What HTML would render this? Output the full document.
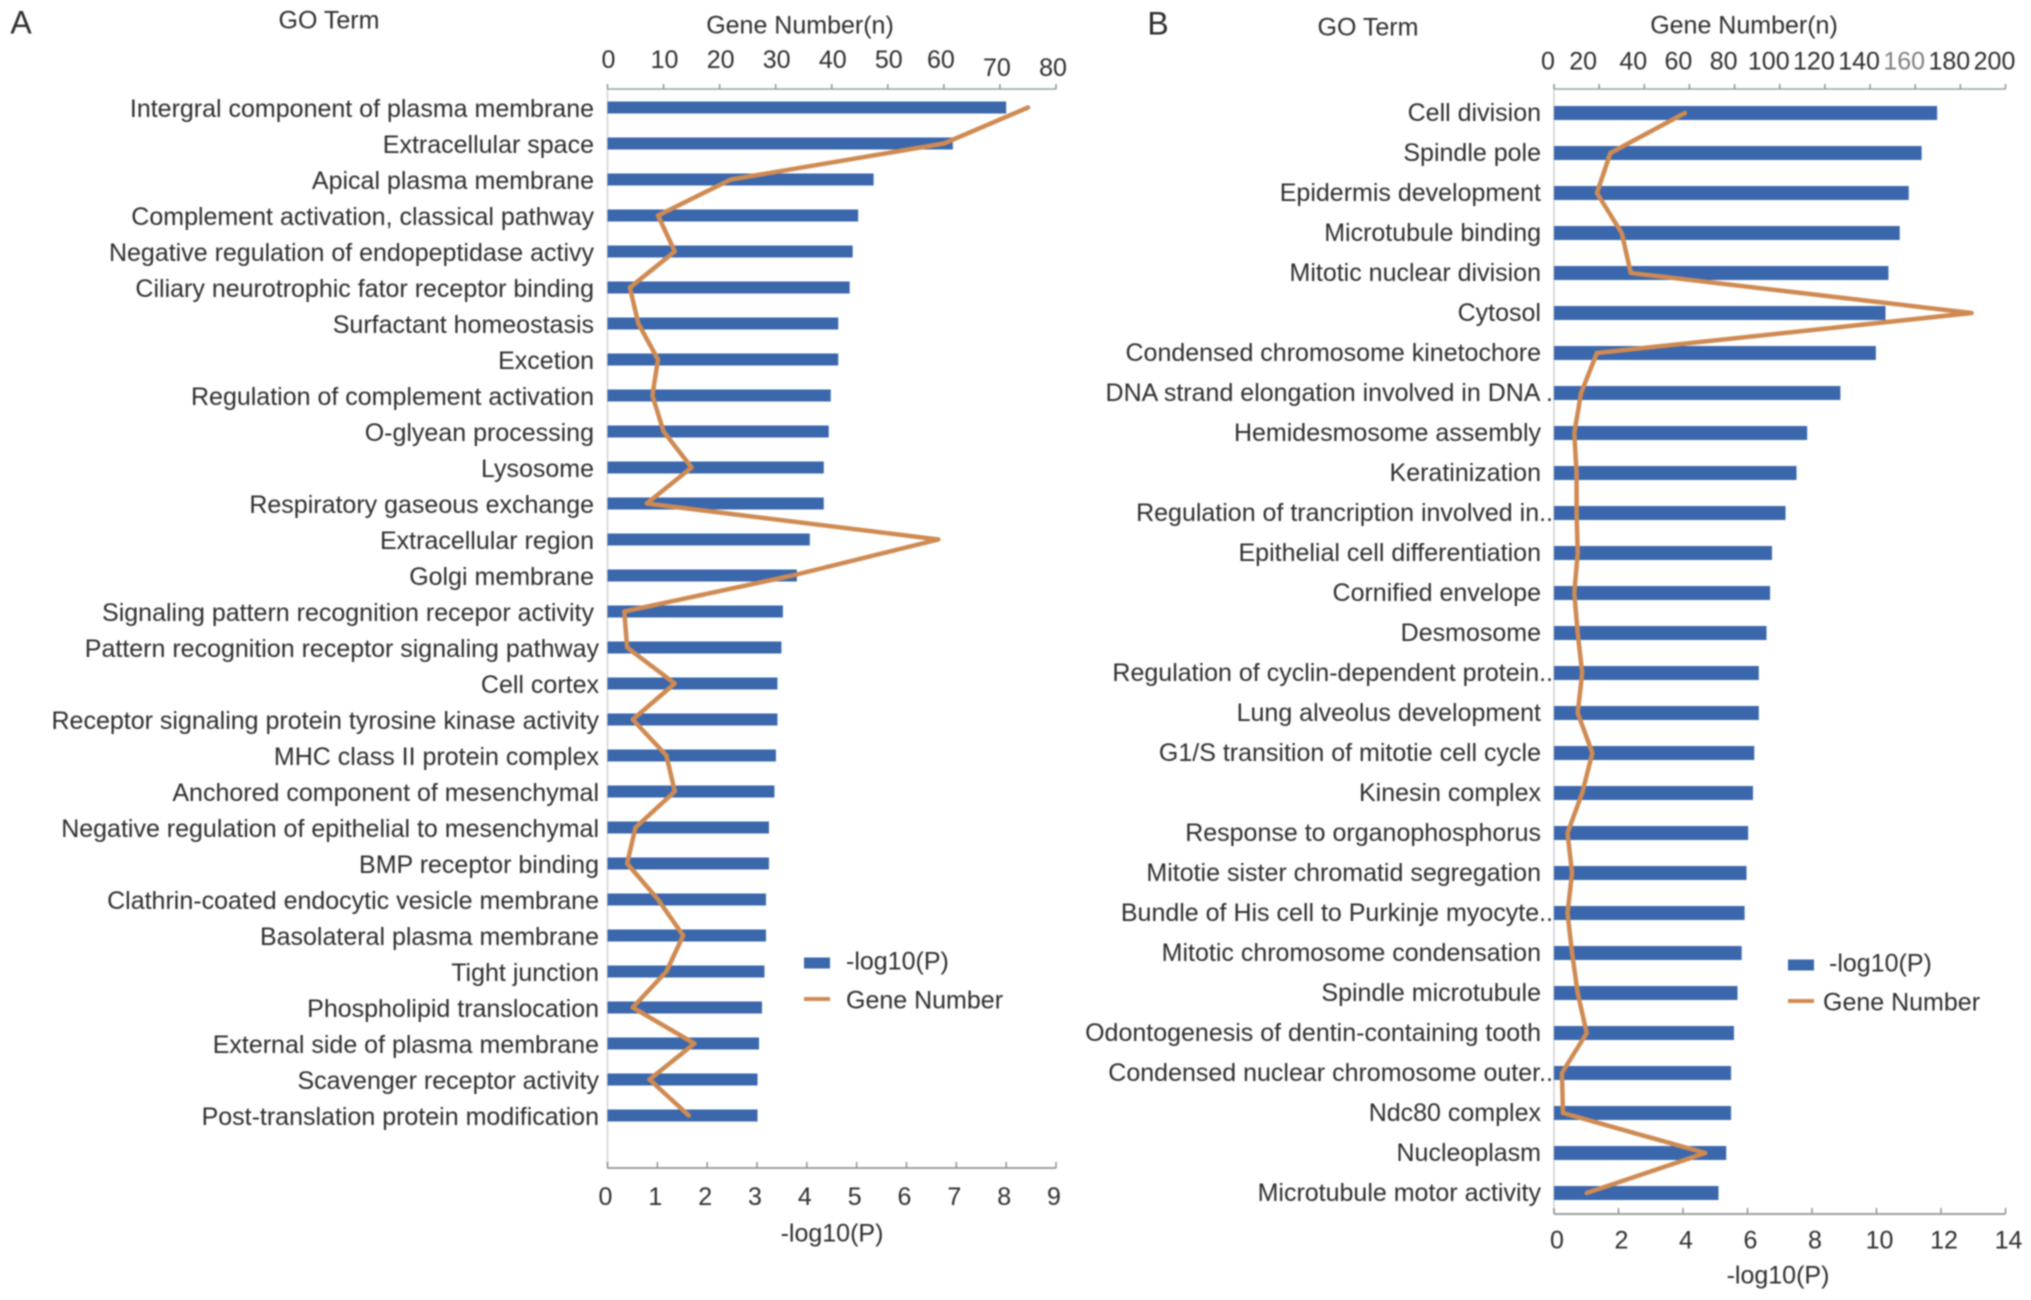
<!DOCTYPE html>
<html lang="en">
<head>
<meta charset="utf-8">
<title>GO term enrichment charts</title>
<style>
html,body{margin:0;padding:0;background:#fff;width:2031px;height:1300px;overflow:hidden}
svg{display:block;filter:blur(0.9px)}
text{font-family:"Liberation Sans",sans-serif;fill:#2e2e2e}
</style>
</head>
<body>
<svg id="chart" width="2031" height="1300" viewBox="0 0 2031 1300" xmlns="http://www.w3.org/2000/svg"></svg>
<script>
const termsA = ["Intergral component of plasma membrane","Extracellular space","Apical plasma membrane","Complement activation, classical pathway","Negative regulation of endopeptidase activy","Ciliary neurotrophic fator receptor binding","Surfactant homeostasis","Excetion","Regulation of complement activation","O-glyean processing","Lysosome","Respiratory gaseous exchange","Extracellular region","Golgi membrane","Signaling pattern recognition recepor activity","Pattern recognition receptor signaling pathway","Cell cortex","Receptor signaling protein tyrosine kinase activity","MHC class II protein complex","Anchored component of mesenchymal","Negative regulation of epithelial to mesenchymal","BMP receptor binding","Clathrin-coated endocytic vesicle membrane","Basolateral plasma membrane","Tight junction","Phospholipid translocation","External side of plasma membrane","Scavenger receptor activity","Post-translation protein modification"];
const logPA = [8.0,6.93,5.34,5.03,4.92,4.86,4.63,4.63,4.48,4.44,4.34,4.34,4.06,3.8,3.52,3.49,3.41,3.41,3.38,3.35,3.24,3.24,3.18,3.18,3.15,3.1,3.04,3.01,3.01];
const genesA = [75,60,22,9,12,4,5.5,9,8,10,15,7,59,33,3,3.5,12,4.5,10.5,12,5,3.5,9,13.5,10.5,4.5,15.5,7.5,14.5];
const geneTicksA = [0,10,20,30,40,50,60,70,80];
const logTicksA = [0,1,2,3,4,5,6,7,8,9];

const termsB = ["Cell division","Spindle pole","Epidermis development","Microtubule binding","Mitotic nuclear division","Cytosol","Condensed chromosome kinetochore","DNA strand elongation involved in DNA .","Hemidesmosome assembly","Keratinization","Regulation of trancription involved in..","Epithelial cell differentiation","Cornified envelope","Desmosome","Regulation of cyclin-dependent protein..","Lung alveolus development","G1/S transition of mitotie cell cycle","Kinesin complex","Response to organophosphorus","Mitotie sister chromatid segregation","Bundle of His cell to Purkinje myocyte..","Mitotic chromosome condensation","Spindle microtubule","Odontogenesis of dentin-containing tooth","Condensed nuclear chromosome outer..","Ndc80 complex","Nucleoplasm","Microtubule motor activity"];
const logPB = [11.88,11.4,11.0,10.72,10.37,10.28,9.98,8.88,7.85,7.52,7.18,6.76,6.7,6.59,6.35,6.35,6.21,6.17,6.02,5.97,5.91,5.82,5.69,5.58,5.49,5.49,5.34,5.1];
const genesB = [58,25,19,30,34,185,19,12,9,10,10,10.5,9,10.5,12.5,10.5,17,12.5,6,8,6,8,10.5,14.5,3.5,4,67,14.5];
const geneTicksB = [0,20,40,60,80,100,120,140,160,180,200];
const logTicksB = [0,2,4,6,8,10,12,14];

const NS = "http://www.w3.org/2000/svg";
const root = document.getElementById("chart");

function make(tag, attrs, text) {
  const el = document.createElementNS(NS, tag);
  for (const k in attrs) el.setAttribute(k, attrs[k]);
  if (text !== undefined) el.textContent = text;
  root.appendChild(el);
  return el;
}

function slug(s) {
  return s.toLowerCase().replace(/[^a-z0-9]+/g, "-").replace(/^-|-$/g, "");
}

function drawPanel(p) {
  const xGene = v => p.x0 + (v / p.geneMax) * (p.x1 - p.x0);
  const xLog = v => p.x0 + (v / p.logMax) * (p.x1 - p.x0);
  const yRow = i => p.rowTop + i * p.rowStep;

  // vertical baseline
  const base = make("line", {x1:p.x0, x2:p.x0, y1:p.axisTop, y2:p.axisBottom, stroke:"#dcdcdc", "stroke-width":2});
  
  

  // top axis
  const top = make("line", {x1:p.x0, x2:p.x1, y1:p.axisTop, y2:p.axisTop, stroke:"#9fb0a8", "stroke-width":1.8});
  
  
  p.geneTicks.forEach(v => {
    const t = make("line", {x1:xGene(v), x2:xGene(v), y1:p.axisTop - 5, y2:p.axisTop, stroke:"#8a8a8a", "stroke-width":1.4});
    
    
    let dx = p.geneLabelDx;
    let dy = 0;
    if (p.id === "panel-a" && v >= 60) dx -= 4;
    if (p.id === "panel-a" && v >= 70) dy = 8;
    if (p.id === "panel-b" && v === 0) dx += 5;
    if (p.id === "panel-b" && v === 20) dx -= 5;
    const l = make("text", {x:xGene(v) + dx, y:p.geneLabelY + dy, "text-anchor":"middle", "font-size":25, "dominant-baseline":"middle"}, String(v));
    if (p.id === "panel-b" && v === 160) l.setAttribute("style", "fill:#808080");
    
    
  });

  // bottom axis
  const bottom = make("line", {x1:p.x0, x2:p.x1, y1:p.axisBottom, y2:p.axisBottom, stroke:"#a0a0a0", "stroke-width":2});
  
  
  p.logTicks.forEach(v => {
    const t = make("line", {x1:xLog(v), x2:xLog(v), y1:p.axisBottom - 6, y2:p.axisBottom, stroke:"#8a8a8a", "stroke-width":1.4});
    
    
    const l = make("text", {x:xLog(v) + p.logLabelDx, y:p.logLabelY, "text-anchor":"middle", "font-size":25, "dominant-baseline":"middle"}, String(v));
    
    
  });

  // bars and labels
  p.terms.forEach((term, i) => {
    const b = make("rect", {x:p.x0, y:yRow(i) - p.barH / 2, width:xLog(p.logP[i]) - p.x0, height:p.barH, fill:"#3b67ad"});
    
    
    const dotted = term.endsWith(".");
    const right = dotted ? p.x0 - 1 : (i >= p.lowerFrom ? p.labelRightLower : p.labelRight);
    const l = make("text", {x:right, y:yRow(i) + p.labelDy, "text-anchor":"end", "font-size":p.labelSize, "dominant-baseline":"middle"}, term);
    
    
  });

  // gene number line
  const pts = p.genes.map((v, i) => xGene(v).toFixed(1) + "," + yRow(i).toFixed(1)).join(" ");
  const line = make("polyline", {points:pts, fill:"none", stroke:"#cf8a52", "stroke-width":4.5, "stroke-linejoin":"round", "stroke-linecap":"round"});
  
  

  // titles
  const letter = make("text", {x:p.letterX, y:p.letterY, "text-anchor":"middle", "font-size":32, "dominant-baseline":"middle"}, p.letter);
  
  
  const go = make("text", {x:p.goX, y:p.goY, "text-anchor":"middle", "font-size":25, "dominant-baseline":"middle"}, "GO Term");
  
  
  const gene = make("text", {x:p.geneTitleX, y:27, "text-anchor":"middle", "font-size":25, "dominant-baseline":"middle"}, "Gene Number(n)");
  
  
  const logT = make("text", {x:p.logTitleX, y:p.logTitleY, "text-anchor":"middle", "font-size":25, "dominant-baseline":"middle"}, "-log10(P)");
  
  

  // legend
  const sw = make("rect", {x:p.legX, y:p.legY1 - 5.5, width:p.legW, height:11, fill:"#3b67ad"});
  
  
  const t1 = make("text", {x:p.legText1, y:p.legY1, "font-size":25, "dominant-baseline":"middle"}, "-log10(P)");
  
  
  const sw2 = make("line", {x1:p.legX, x2:p.legX + p.legW, y1:p.legY2 - 3, y2:p.legY2 - 3, stroke:"#cf8a52", "stroke-width":4});
  
  
  const t2 = make("text", {x:p.legText2, y:p.legY2, "font-size":25, "dominant-baseline":"middle"}, "Gene Number");
  
  
}

drawPanel({
  id:"panel-a", letter:"A", letterX:21, letterY:25,
  terms:termsA, logP:logPA, genes:genesA, geneTicks:geneTicksA, logTicks:logTicksA,
  geneMax:80, logMax:9, x0:607.5, x1:1056,
  axisTop:89, axisBottom:1168, rowTop:107.5, rowStep:36.0, barH:12,
  labelRight:594, labelRightLower:599, lowerFrom:15, labelSize:25, labelDy:3,
  geneLabelY:61.5, geneLabelDx:1, logLabelY:1198.5, logLabelDx:-2,
  goX:329, goY:22, geneTitleX:800, logTitleX:832, logTitleY:1235,
  legX:804, legW:26, legY1:963, legY2:1002, legText1:846, legText2:846
});

drawPanel({
  id:"panel-b", letter:"B", letterX:1158, letterY:26,
  terms:termsB, logP:logPB, genes:genesB, geneTicks:geneTicksB, logTicks:logTicksB,
  geneMax:200, logMax:14, x0:1554, x1:2005.5,
  axisTop:89, axisBottom:1214, rowTop:113, rowStep:40.0, barH:14,
  labelRight:1541, labelRightLower:1541, lowerFrom:99, labelSize:25, labelDy:1.5,
  geneLabelY:63, geneLabelDx:-11, logLabelY:1242, logLabelDx:3,
  goX:1368, goY:29, geneTitleX:1744, logTitleX:1778, logTitleY:1277,
  legX:1788, legW:26, legY1:965, legY2:1004, legText1:1829, legText2:1823
});
</script>
</body>
</html>
